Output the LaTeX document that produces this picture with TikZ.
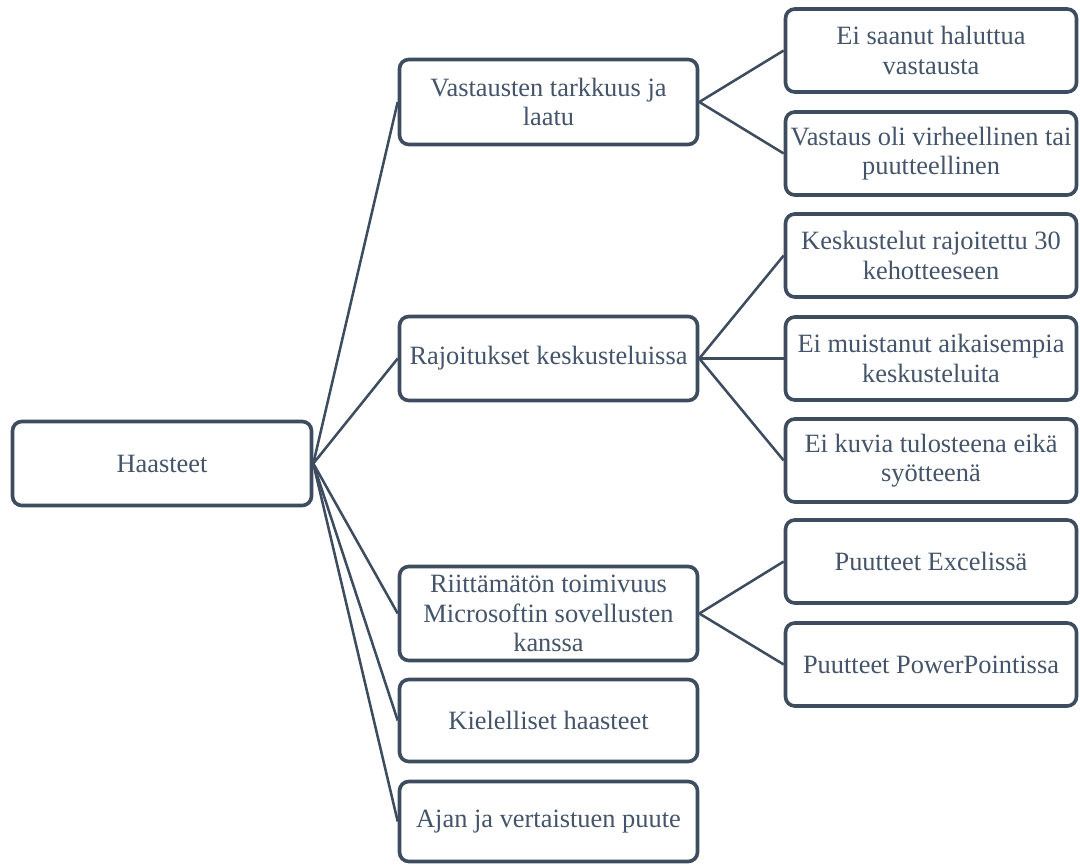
\documentclass[tikz,border=0pt]{standalone}
\usepackage{fontspec}
\setmainfont{Liberation Serif}
\definecolor{edgeblue}{HTML}{3E4C60}
\definecolor{textblue}{HTML}{44546A}
\begin{document}
\begin{tikzpicture}[x=0.75pt,y=-0.75pt,
  box/.style={draw=edgeblue, line width=2.7pt, rounded corners=7pt, fill=white,
    text=textblue, align=center, inner sep=0pt,
    font=\fontsize{19.8pt}{22pt}\selectfont},
  rootbox/.style={box, minimum width=299*0.75pt, minimum height=84*0.75pt},
  midbox/.style={box, minimum width=298*0.75pt},
  leafbox/.style={box, minimum width=291*0.75pt, minimum height=83*0.75pt},
  link/.style={draw=edgeblue, line width=1.9pt}]
\useasboundingbox (0,0) rectangle (1080,866);

% root
\node[rootbox] (root) at (162,463.5) {Haasteet};

% first level
\node[midbox, minimum height=85*0.75pt] (m1) at (548.5,102) {Vastausten tarkkuus ja\\laatu};
\node[midbox, minimum height=84*0.75pt] (m2) at (548.5,358.5) {Rajoitukset keskusteluissa};
\node[midbox, minimum height=94*0.75pt] (m3) at (548.5,613.5) {Riittämätön toimivuus\\Microsoftin sovellusten\\kanssa};
\node[midbox, minimum height=82*0.75pt] (m4) at (548.5,720.5) {Kielelliset haasteet};
\node[midbox, minimum height=80*0.75pt] (m5) at (548.5,821.5) {Ajan ja vertaistuen puute};

% second level
\node[leafbox] (l1) at (931,50.5) {Ei saanut haluttua\\vastausta};
\node[leafbox] (l2) at (931,153.5) {Vastaus oli virheellinen tai\\puutteellinen};
\node[leafbox] (l3) at (931,255.5) {Keskustelut rajoitettu 30\\kehotteeseen};
\node[leafbox] (l4) at (931,358.5) {Ei muistanut aikaisempia\\keskusteluita};
\node[leafbox] (l5) at (931,460.5) {Ei kuvia tulosteena eikä\\syötteenä};
\node[leafbox] (l6) at (931,561.5) {Puutteet Excelissä};
\node[leafbox] (l7) at (931,664.5) {Puutteet PowerPointissa};

% connectors
\foreach \m in {m1,m2,m3,m4,m5}
  \draw[link] (root.east) -- (\m.west);
\foreach \l in {l1,l2}
  \draw[link] (m1.east) -- (\l.west);
\foreach \l in {l3,l4,l5}
  \draw[link] (m2.east) -- (\l.west);
\foreach \l in {l6,l7}
  \draw[link] (m3.east) -- (\l.west);
\end{tikzpicture}
\end{document}
